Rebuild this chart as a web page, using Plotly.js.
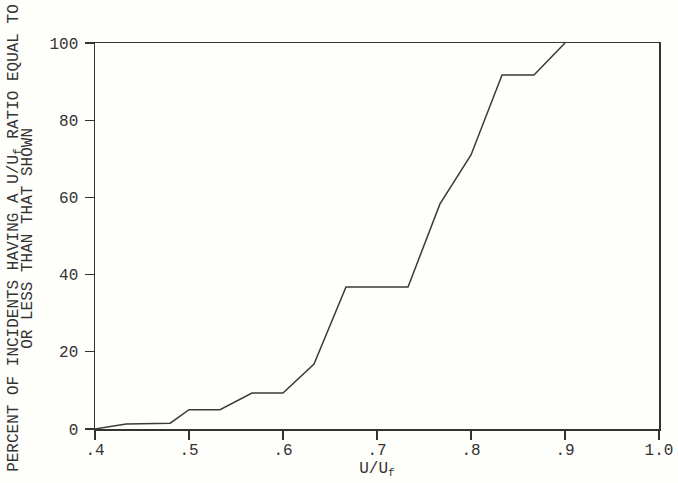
<!DOCTYPE html>
<html>
<head>
<meta charset="utf-8">
<script src="https://cdn.plot.ly/plotly-3.0.1.min.js"></script>
<style>html,body{margin:0;padding:0;background:#fefefb;}#chart{width:678px;height:483px;}</style>
</head>
<body>
<div id="chart"></div>
<script>
// Data (cumulative percent of incidents vs U/Uf)
var ratio = [0.4, 0.433, 0.48, 0.5, 0.533, 0.567, 0.6, 0.633, 0.667, 0.733, 0.767, 0.8, 0.833, 0.867, 0.9];
var percent = [0, 1.3, 1.5, 5, 5, 9.3, 9.3, 16.8, 36.8, 36.8, 58.3, 71, 91.7, 91.7, 100];
var xTickVals = [0.4, 0.5, 0.6, 0.7, 0.8, 0.9, 1.0];
var xTickText = ['.4', '.5', '.6', '.7', '.8', '.9', '1.0'];
var yTickVals = [0, 20, 40, 60, 80, 100];
var yTitle1 = 'PERCENT OF INCIDENTS HAVING A U/U<sub>f</sub> RATIO EQUAL TO';
var yTitle2 = 'OR LESS THAN THAT SHOWN';
var xTitle = 'U/U<sub>f</sub>';

var font = 'Liberation Mono, DejaVu Sans Mono, monospace';
var ink = '#333333';

var trace = {
  x: ratio, y: percent, type: 'scatter', mode: 'lines',
  line: {color: '#3a3a3a', width: 1.5},
  hoverinfo: 'x+y', showlegend: false
};

var layout = {
  width: 678, height: 483,
  margin: {l: 95, r: 19, t: 43, b: 54},
  paper_bgcolor: '#fefefb', plot_bgcolor: '#fefefb',
  font: {family: font, color: ink, size: 16},
  xaxis: {
    range: [0.4, 1.0], tickvals: xTickVals, ticktext: xTickText,
    ticks: 'outside', ticklen: 9, tickcolor: ink, tickwidth: 1.3,
    ticklabelstandoff: -4,
    showline: true, linecolor: ink, linewidth: 1.5, mirror: true,
    showgrid: false, zeroline: false,
    tickfont: {family: font, size: 16, color: ink},
    title: {text: xTitle, font: {family: font, size: 16, color: ink}, standoff: 0}
  },
  yaxis: {
    range: [0, 100], tickvals: yTickVals,
    ticks: 'outside', ticklen: 9, tickcolor: ink, tickwidth: 1.3,
    ticklabelstandoff: 3,
    showline: true, linecolor: ink, linewidth: 1.5, mirror: true,
    showgrid: false, zeroline: false,
    tickfont: {family: font, size: 16, color: ink}
  },
  annotations: [
    {text: yTitle1, xref: 'paper', yref: 'paper', x: -0.142, y: 0.495,
     xanchor: 'center', yanchor: 'middle', textangle: -90, showarrow: false,
     font: {family: font, size: 16, color: ink}},
    {text: yTitle2, xref: 'paper', yref: 'paper', x: -0.119, y: 0.495,
     xanchor: 'center', yanchor: 'middle', textangle: -90, showarrow: false,
     font: {family: font, size: 16, color: ink}}
  ]
};

Plotly.newPlot('chart', [trace], layout, {displayModeBar: false, staticPlot: true});
</script>
</body>
</html>
